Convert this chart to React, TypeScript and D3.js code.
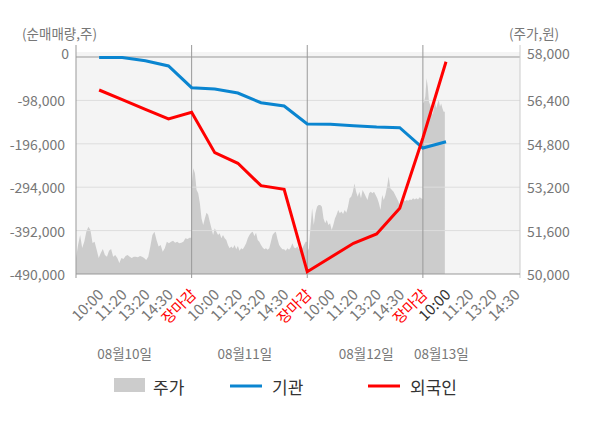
import { useEffect, useRef } from "react"
import * as d3 from "d3"

// x axis slots (one per label), lines have a point on the first 16
const slotLabels = [
  "10:00", "11:20", "13:20", "14:30", "장마감",
  "10:00", "11:20", "13:20", "14:30", "장마감",
  "10:00", "11:20", "13:20", "14:30", "장마감",
  "10:00", "11:20", "13:20", "14:30",
]
const currentSlot = 15

// net buying (shares)
const institution = [
  -1000, -1000, -8400, -20300, -69300, -72300, -81300, -103200, -110600,
  -151300, -152000, -155100, -158000, -159700, -205500, -191300,
]
const foreign = [
  -74500, -96000, -118500, -140000, -124900, -216100, -240000, -290600, -298700,
  -484800, -452700, -420700, -399700, -341600, -182900, -10600,
]

const dates = ["08월10일", "08월11일", "08월12일", "08월13일"]
const dateCenters = [0.42, 1.46, 2.51, 3.16]

const leftTicks = [0, -98000, -196000, -294000, -392000, -490000]
const rightTicks = [58000, 56400, 54800, 53200, 51600, 50000]

// intraday price (won), sampled evenly through each session
const priceDay1 = [
  50580, 51070, 51440, 50960, 51190, 51560, 51740, 51620, 51140, 51190, 50890, 50590,
  50770, 50920, 50700, 50640, 50860, 50920, 50640, 50700, 50590, 50410, 50590, 50550,
  50660, 50700, 50640, 50590, 50640, 50640, 50620, 50660, 50640, 50590, 50520, 50640,
  51010, 51440, 51560, 51250, 51010, 51070, 50820, 50950, 51190, 51130, 51190, 51230,
  51150, 51190, 51130, 51150, 51190, 51320, 51290, 51340, 51340,
]
const priceDay2 = [
  53280, 53900, 53710, 53100, 52980, 52610, 52050, 51810, 52050, 52260, 52180, 51930,
  51690, 51440, 51690, 51560, 51440, 51500, 51320, 51440, 51320, 51250, 51070, 50950,
  51010, 50950, 51070, 50910, 51030, 50860, 50950, 50910, 51010, 51130, 51320, 51440,
  51520, 51560, 51400, 51520, 51250, 51190, 51070, 50980, 50910, 50950, 50890, 50950,
  51190, 51440, 51520, 51560, 51280, 51070, 50980, 50910, 50910, 50860, 50950, 50890,
  50980, 51130, 50980, 50950, 51010, 50910, 50890, 50950, 51070, 51190, 51190,
]
const priceDay3 = [
  50820, 50950, 51740, 52420, 51810, 52240, 52480, 52540, 52540, 52480, 52050, 51870,
  51990, 51810, 51870, 51620, 51810, 52050, 52180, 52360, 52240, 52300, 52210, 52360,
  52260, 52480, 52790, 52850, 53030, 53340, 53030, 52850, 53030, 52790, 53100, 52980,
  52850, 52730, 52980, 53030, 52980, 53030, 52910, 52790, 52610, 52360, 52910, 52730,
  52910, 53220, 53590, 53160, 53100, 53030, 52910, 52790, 52670, 52480, 52540, 52790,
  52670, 52730, 52700, 52750, 52730, 52790, 52750, 52790, 52750, 52830, 52790, 52750,
]
const priceDay4 = [
  56290, 56350, 56540, 57220, 56910, 56350, 56230, 56050, 55860, 56110, 56350, 56110,
  56290, 56420, 56170, 56290, 56110, 55980, 55980,
]
const priceDays = [priceDay1, priceDay2, priceDay3, priceDay4]
// share of each session covered (last day is still trading)
const sessionDone = [1, 1, 1, 0.19]

export default function App() {
  const svgRef = useRef<SVGSVGElement | null>(null)

  useEffect(() => {
    if (!svgRef.current) return
    document.body.style.margin = "0"

    const svg = d3.select(svgRef.current)
    svg.selectAll("*").remove()

    const left = 76
    const right = 520
    const top = 57
    const bottom = 274
    const font = "'Noto Sans CJK KR', 'Noto Sans', sans-serif"

    const x = d3.scaleLinear().domain([0, 3.84]).range([left, right])
    const yL = d3.scaleLinear().domain([-490000, 0]).range([bottom, top])
    const yR = d3.scaleLinear().domain([50000, 58000]).range([bottom, top])
    const slotX = (i: number) => x((i + 1) / 5)

    // plot background
    svg
      .append("rect")
      .attr("x", left)
      .attr("y", top - 5)
      .attr("width", right - left)
      .attr("height", bottom - top + 5)
      .attr("fill", "#f4f4f4")

    // price area
    const pricePts: { t: number; p: number }[] = []
    priceDays.forEach((arr, d) => {
      arr.forEach((p, k) => {
        pricePts.push({ t: d + (sessionDone[d] * k) / (arr.length - 1), p })
      })
    })
    const area = d3
      .area<{ t: number; p: number }>()
      .x((d) => x(d.t))
      .y0(bottom)
      .y1((d) => yR(d.p))
    svg.append("path").datum(pricePts).attr("d", area).attr("fill", "#cccccc")

    // horizontal grid
    svg
      .selectAll(".hgrid")
      .data(leftTicks.slice(1, -1))
      .enter()
      .append("line")
      .attr("x1", left)
      .attr("x2", right)
      .attr("y1", (d) => yL(d))
      .attr("y2", (d) => yL(d))
      .attr("stroke", "#dddddd")
      .attr("stroke-width", 1)

    svg
      .append("line")
      .attr("x1", left)
      .attr("x2", right)
      .attr("y1", yL(0))
      .attr("y2", yL(0))
      .attr("stroke", "#999999")

    // day separators and axis frame
    svg
      .selectAll(".vgrid")
      .data([0, 1, 2, 3])
      .enter()
      .append("line")
      .attr("x1", (d) => x(d))
      .attr("x2", (d) => x(d))
      .attr("y1", top - 12)
      .attr("y2", bottom + 4)
      .attr("stroke", "#999999")

    svg
      .append("line")
      .attr("x1", right)
      .attr("x2", right)
      .attr("y1", top - 12)
      .attr("y2", bottom + 4)
      .attr("stroke", "#cccccc")

    svg
      .append("line")
      .attr("x1", left)
      .attr("x2", right)
      .attr("y1", bottom)
      .attr("y2", bottom)
      .attr("stroke", "#999999")

    // lines
    const line = d3
      .line<number>()
      .x((_, i) => slotX(i))
      .y((d) => yL(d))

    svg
      .append("path")
      .datum(institution)
      .attr("d", line)
      .attr("fill", "none")
      .attr("stroke", "#0a85d0")
      .attr("stroke-width", 3)

    svg
      .append("path")
      .datum(foreign)
      .attr("d", line)
      .attr("fill", "none")
      .attr("stroke", "#ff0000")
      .attr("stroke-width", 3)

    // left axis labels
    svg
      .selectAll(".ltick")
      .data(leftTicks)
      .enter()
      .append("text")
      .attr("x", (d, i) => (i === 0 ? 69 : 65))
      .attr("y", (d, i) => yL(d) - (i === 0 ? 4 : 0))
      .attr("text-anchor", "end")
      .attr("dominant-baseline", "central")
      .attr("font-family", font)
      .attr("font-size", "14px")
      .attr("fill", "#777777")
      .text((d) => d3.format(",")(d).replace("−", "-"))

    // right axis labels
    svg
      .selectAll(".rtick")
      .data(rightTicks)
      .enter()
      .append("text")
      .attr("x", 527)
      .attr("y", (d, i) => yR(d) - (i === 0 ? 4 : 0))
      .attr("dominant-baseline", "central")
      .attr("font-family", font)
      .attr("font-size", "14px")
      .attr("fill", "#777777")
      .text((d) => d3.format(",")(d))

    // axis titles
    svg
      .append("text")
      .attr("x", 22)
      .attr("y", 33)
      .attr("dominant-baseline", "central")
      .attr("font-family", font)
      .attr("font-size", "13.5px")
      .attr("fill", "#777777")
      .text("(순매매량,주)")

    svg
      .append("text")
      .attr("x", 509)
      .attr("y", 33)
      .attr("dominant-baseline", "central")
      .attr("font-family", font)
      .attr("font-size", "13.5px")
      .attr("fill", "#777777")
      .text("(주가,원)")

    // x slot labels
    svg
      .selectAll(".xlab")
      .data(slotLabels)
      .enter()
      .append("text")
      .attr("transform", (d, i) => `translate(${slotX(i) + 1},291) rotate(-45)`)
      .attr("text-anchor", "end")
      .attr("dominant-baseline", "central")
      .attr("font-family", font)
      .attr("font-size", "15px")
      .attr("fill", (d, i) => (d === "장마감" ? "#ff0000" : i === currentSlot ? "#333333" : "#777777"))
      .text((d) => d)

    // date labels
    svg
      .selectAll(".dlab")
      .data(dates)
      .enter()
      .append("text")
      .attr("x", (d, i) => x(dateCenters[i]))
      .attr("y", 353)
      .attr("text-anchor", "middle")
      .attr("dominant-baseline", "central")
      .attr("font-family", font)
      .attr("font-size", "13.5px")
      .attr("fill", "#777777")
      .text((d) => d)

    // legend
    const legend = svg.append("g").attr("font-family", font).attr("font-size", "17px").attr("fill", "#333333")
    legend.append("rect").attr("x", 114).attr("y", 378).attr("width", 31).attr("height", 14).attr("fill", "#cccccc")
    legend.append("text").attr("x", 153).attr("y", 386).attr("dominant-baseline", "central").text("주가")
    legend.append("line").attr("x1", 230).attr("x2", 262).attr("y1", 386).attr("y2", 386).attr("stroke", "#0a85d0").attr("stroke-width", 3)
    legend.append("text").attr("x", 272).attr("y", 386).attr("dominant-baseline", "central").text("기관")
    legend.append("line").attr("x1", 368).attr("x2", 400).attr("y1", 386).attr("y2", 386).attr("stroke", "#ff0000").attr("stroke-width", 3)
    legend.append("text").attr("x", 410).attr("y", 386).attr("dominant-baseline", "central").text("외국인")
  }, [])

  return <svg ref={svgRef} width={600} height={428} style={{ display: "block" }}></svg>
}
